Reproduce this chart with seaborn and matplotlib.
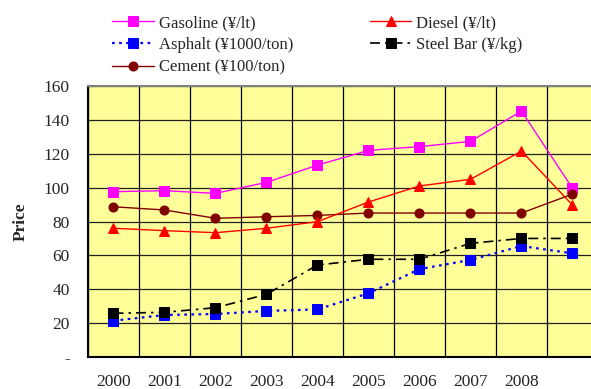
import seaborn as sns
import numpy as np
import pandas as pd
import matplotlib.pyplot as plt
from matplotlib.ticker import FixedLocator

years = [2000, 2001, 2002, 2003, 2004, 2005, 2006, 2007, 2008, 2009]
year_labels = ['2000', '2001', '2002', '2003', '2004', '2005', '2006', '2007', '2008', '']

gasoline = [97.6, 98.2, 96.6, 103.1, 113.3, 122.0, 124.2, 127.3, 145.2, 99.6]
diesel = [76.0, 74.6, 73.4, 76.0, 79.9, 91.5, 101.0, 104.9, 121.6, 89.7]
asphalt = [21.4, 24.8, 25.4, 27.2, 28.1, 37.6, 51.9, 57.3, 65.5, 61.2]
steel = [25.8, 26.4, 29.1, 37.0, 54.3, 57.7, 57.7, 67.1, 70.0, 70.0]
cement = [88.7, 86.8, 81.9, 82.8, 83.6, 85.0, 85.0, 85.0, 85.0, 96.2]

y_ticks = [0, 20, 40, 60, 80, 100, 120, 140, 160]
y_labels = ['-', '20', '40', '60', '80', '100', '120', '140', '160']

sns.set_style("white")
plt.rcParams['font.family'] = ['Liberation Serif', 'DejaVu Serif']

fig = plt.figure(figsize=(5.91, 3.89), dpi=100)
ax = fig.add_axes([88 / 591, 1 - 357 / 389, 510 / 591, 271 / 389])
ax.set_facecolor('#FFFF99')

# draw order / legend order (legend fills column-first)
series = [
    ('Gasoline (¥/lt)', gasoline, '#FF00FF', '-', 's', 1.0),
    ('Asphalt (¥1000/ton)', asphalt, '#0000FF', (0, (1.2, 2.0)), 's', 1.6),
    ('Cement (¥100/ton)', cement, '#800000', '-', 'o', 1.0),
    ('Diesel (¥/lt)', diesel, '#FF0000', '-', '^', 1.0),
    ('Steel Bar (¥/kg)', steel, '#000000', (0, (6, 3, 1.5, 3)), 's', 1.2),
]

for name, vals, col, ls, mk, lw in series:
    df = pd.DataFrame({'year': years, 'value': vals})
    sns.lineplot(data=df, x='year', y='value', ax=ax, color=col, linestyle=ls,
                 linewidth=lw, marker=mk, markersize=6.5, markeredgecolor=col,
                 markerfacecolor=col, label=name, legend=False)

ax.set_xlim(1999.5, 2009.5)
ax.set_ylim(0, 160)
ax.set_xticks(years)
ax.set_xticklabels(year_labels)
ax.xaxis.set_minor_locator(FixedLocator(np.arange(1999.5, 2010, 1.0)))
ax.set_yticks(y_ticks)
ax.set_yticklabels(y_labels)
ax.tick_params(axis='both', which='both', length=0, labelsize=12.5)
ax.tick_params(axis='x', pad=12)
ax.tick_params(axis='y', pad=13)

ax.grid(False)
ax.xaxis.grid(True, which='minor', color='black', linewidth=0.9)
ax.yaxis.grid(True, which='major', color='#202020', linewidth=0.9)
ax.set_axisbelow(True)

for s in ['left', 'bottom']:
    ax.spines[s].set_color('black')
    ax.spines[s].set_linewidth(1.5)
ax.spines['top'].set_color('#808080')
ax.spines['top'].set_linewidth(1.5)
ax.spines['right'].set_visible(False)

ax.set_xlabel('')
ax.set_ylabel('Price', fontsize=12.5, fontweight='bold')
ax.yaxis.set_label_coords((29 - 88) / 510, 0.5)

handles, labels = ax.get_legend_handles_labels()
fig.legend(handles, labels, loc='upper left', bbox_to_anchor=(112 / 591, 1 - 15 / 389),
           ncol=2, frameon=False, fontsize=12, borderpad=0, borderaxespad=0,
           handlelength=2.5, handletextpad=0.3, columnspacing=4.6, labelspacing=0.38)

plt.savefig('out.png', dpi=100)
